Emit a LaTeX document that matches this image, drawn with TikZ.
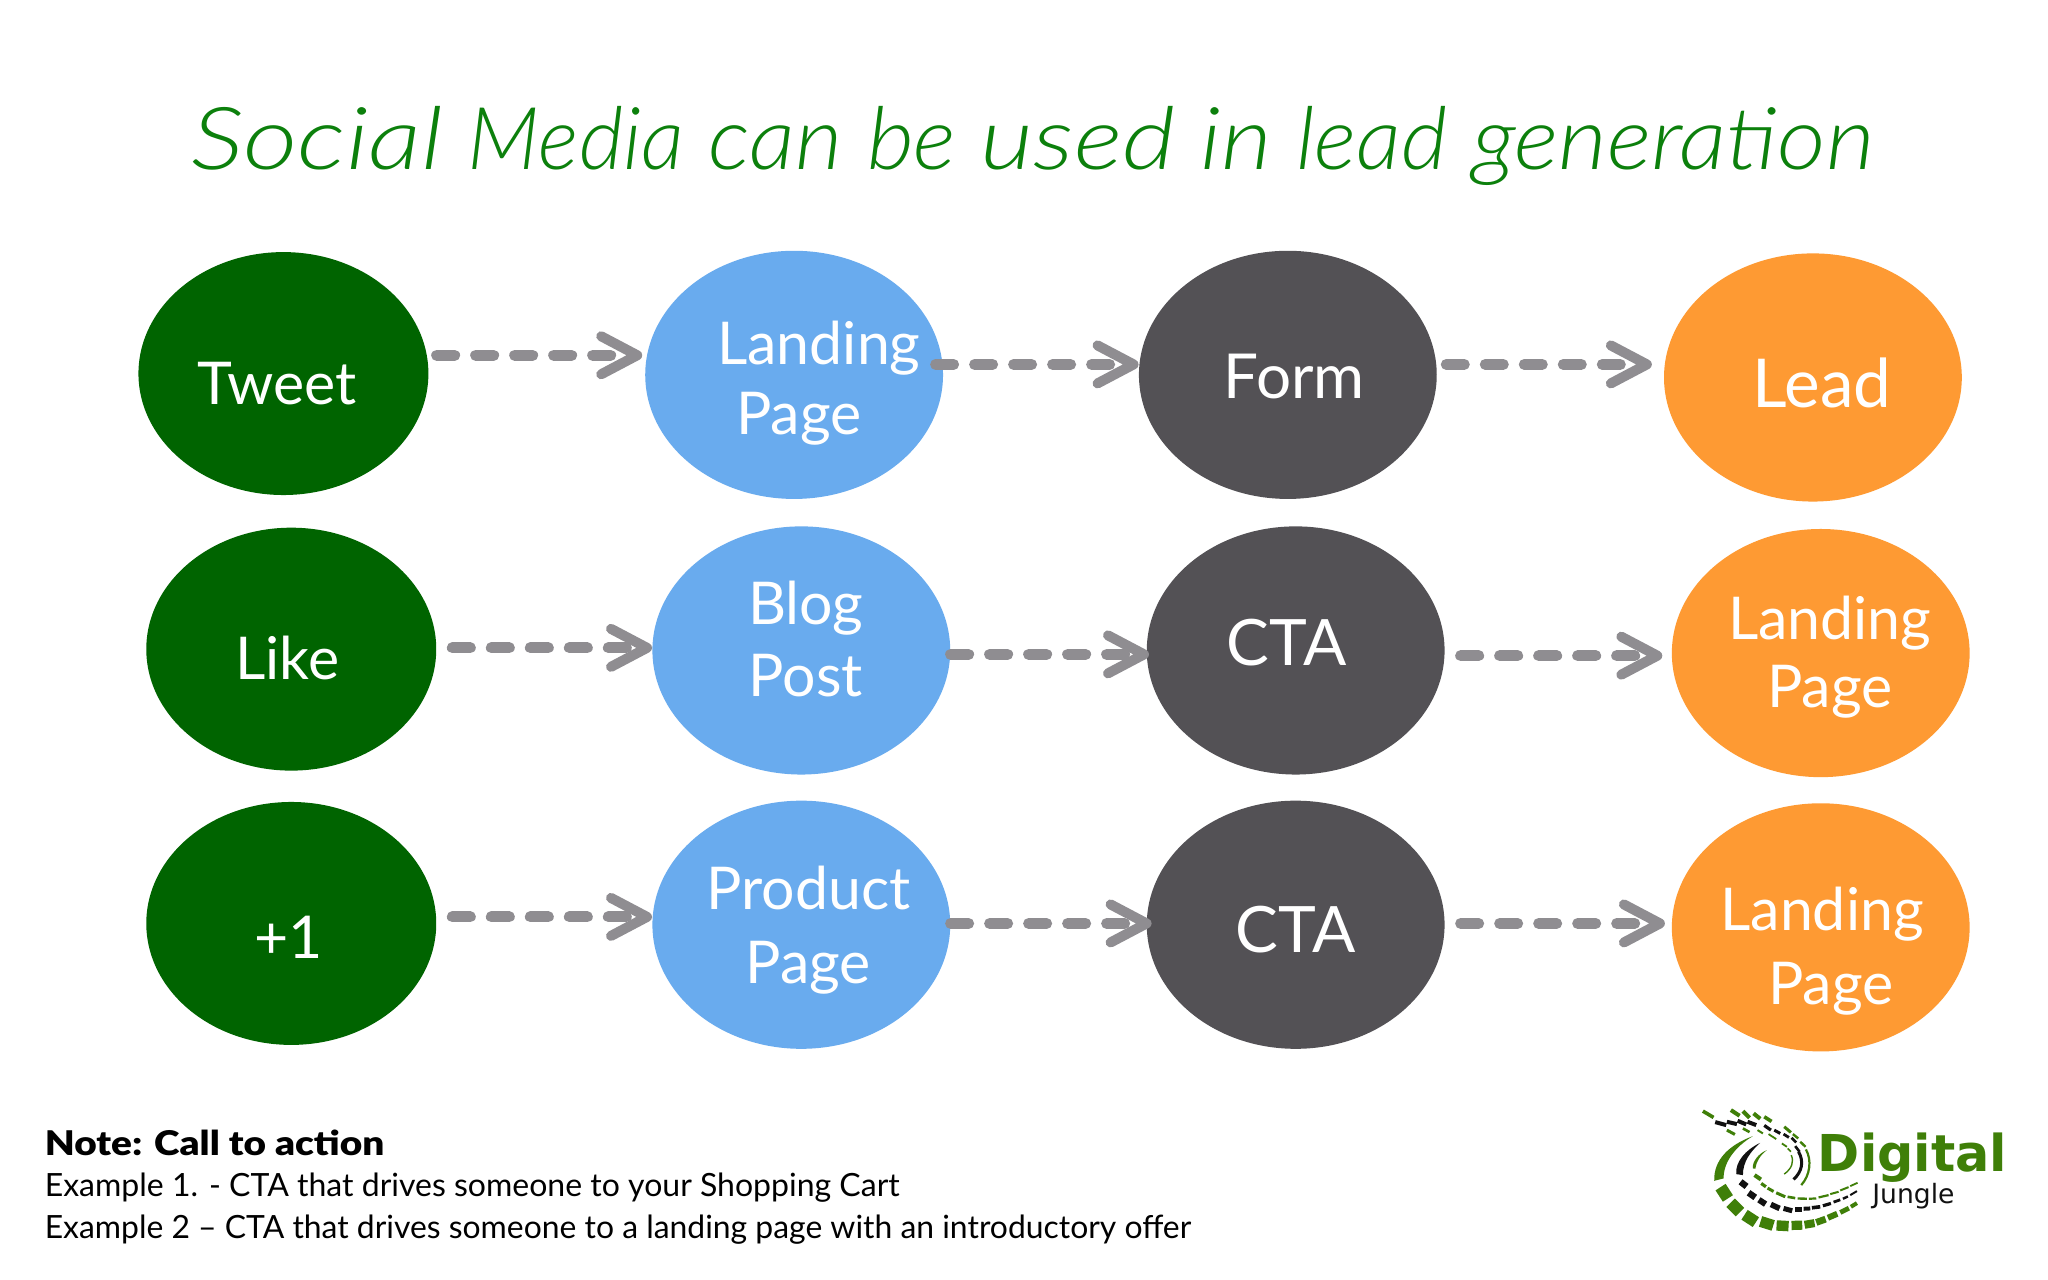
\documentclass[tikz,border=0pt]{standalone}
\usepackage{fontspec}
\setmainfont{Lato}
\newfontfamily\labelfont{Lato}
\newfontfamily\titlefont{Lato Light Italic}
\newfontfamily\notebold{Lato Black}
\newfontfamily\logofont{DejaVu Sans}
\usetikzlibrary{arrows.meta,shapes.geometric}
\definecolor{leafgreen}{HTML}{006400}
\definecolor{skyblue}{HTML}{69ABEE}
\definecolor{slategray}{HTML}{535155}
\definecolor{amber}{HTML}{FE9A33}
\definecolor{arrowgray}{HTML}{8F8D91}
\definecolor{titlegreen}{HTML}{0C800C}
\definecolor{logogreen}{HTML}{3F7F08}
\definecolor{logoblack}{HTML}{111111}
\newcommand\tw[2]{\scalebox{#1}[1]{#2}}
\tikzset{
  oval/.style={ellipse,inner sep=0pt,minimum width=228*0.653pt,minimum height=190*0.653pt},
  gnode/.style={oval,fill=leafgreen,minimum width=222*0.653pt,minimum height=186*0.653pt},
  bnode/.style={oval,fill=skyblue},
  dnode/.style={oval,fill=slategray},
  onode/.style={oval,fill=amber},
  lbl/.style={text=white,font=\labelfont\fontsize{29.5}{35}\selectfont,inner sep=0pt,align=center},
  flow/.style={draw=arrowgray,line width=5.5pt,line cap=round,dash pattern=on 9pt off 10.5pt,
    -{Straight Barb[round,length=18pt,width=19pt,line width=5pt]}},
  notetext/.style={anchor=base west,inner sep=0pt,font=\fontsize{16}{19}\selectfont},
  lg/.style={logogreen,line cap=butt},
  lk/.style={logoblack,line cap=butt},
}
\begin{document}
\begin{tikzpicture}[x=0.653pt,y=-0.653pt]
\useasboundingbox (0,0) rectangle (1568,980);
\fill[white] (0,0) rectangle (1568,980);
\node[anchor=base west,inner sep=0pt,text=titlegreen] (title) at (146,130)
  {\scalebox{1}[0.9]{\resizebox{841.7pt}{!}{\titlefont\fontsize{40}{48}\selectfont \tw{1.1}{Social} \tw{.89}{Media} \tw{.95}{can} \tw{.94}{be} \tw{1.07}{used} \tw{1.02}{in} \tw{.93}{lead} \tw{.98}{generation}}}};

\node[gnode] (a1) at (217,286) {};
\node[gnode] (a2) at (223,497) {};
\node[gnode] (a3) at (223,707) {};
\node[bnode] (b1) at (608,287) {};
\node[bnode] (b2) at (613.5,498) {};
\node[bnode] (b3) at (613.5,708) {};
\node[dnode] (c1) at (986,287) {};
\node[dnode] (c2) at (992,498) {};
\node[dnode] (c3) at (992,708) {};
\node[onode] (d1) at (1388,289) {};
\node[onode] (d2) at (1394,500) {};
\node[onode] (d3) at (1394,710) {};

\node[lbl] (ta1) at (212,294) {Tweet};
\node[lbl] (ta2) at (220,504) {Like};
\node[lbl] (ta3) at (221,718) {+1};
\node[lbl,align=left] (tb1) at (627,293) {Landing\\[0pt]\hspace*{9.5pt}Page};
\node[lbl] (tb2) at (617,489) {Blog\\[1pt]Post};
\node[lbl] (tb3) at (619,712.5) {Product\\[2pt]Page};
\node[lbl,font=\labelfont\fontsize{31}{35}\selectfont] (tc1) at (991,288) {Form};
\node[lbl,font=\labelfont\fontsize{32}{35}\selectfont] (tc2) at (985,492) {CTA};
\node[lbl,font=\labelfont\fontsize{32}{35}\selectfont] (tc3) at (992,712) {CTA};
\node[lbl,font=\labelfont\fontsize{33.7}{35}\selectfont] (td1) at (1395,293) {Lead};
\node[lbl] (td2) at (1401,503) {Landing\\[-1pt]Page};
\node[lbl,align=left] (td3) at (1395,728) {Landing\\[2pt]\hspace*{24pt}Page};

\draw[flow] ([shift={(6,-14)}]a1.east) -- ([shift={(-2,-14)}]b1.west |- a1.east);
\draw[flow] ([shift={(-6,-8)}]b1.east) -- ([shift={(0,-8)}]c1.west);
\draw[flow] ([shift={(7,-8)}]c1.east) -- ([shift={(-9,-8)}]d1.west |- c1.east);
\draw[flow] ([shift={(12,-1)}]a2.east) -- ([shift={(0,-1)}]b2.west |- a2.east);
\draw[flow] ([shift={(0,3)}]b2.east) -- ([shift={(2,3)}]c2.west);
\draw[flow] ([shift={(12,4)}]c2.east) -- ([shift={(-7,4)}]d2.west |- c2.east);
\draw[flow] ([shift={(12,-5)}]a3.east) -- ([shift={(0,-5)}]b3.west |- a3.east);
\draw[flow] ([shift={(0,-1)}]b3.east) -- ([shift={(4,-1)}]c3.west);
\draw[flow] ([shift={(12,-1)}]c3.east) -- ([shift={(-5,-3)}]d3.west);

\node[notetext] (n1) at (34,885) {\scalebox{1.14}[1]{\notebold\fontsize{17}{19}\selectfont Note: Call to action}};
\node[notetext] (n2) at (34,916) {Example 1. - CTA that drives someone to your Shopping Cart};
\node[notetext] (n3) at (34,948) {\scalebox{0.996}[1]{Example 2 – CTA that drives someone to a landing page with an introductory offer}};

\begin{scope}[shift={(1271.1,834.6)},x=0.16667pt,y=-0.16667pt]
  % crescents
  \fill[logogreen] (278,138) .. controls (205,165) and (160,210) .. (162,272) -- (190,265) .. controls (190,215) and (225,170) .. (278,138) -- cycle;
  \fill[logoblack] (300,158) .. controls (255,180) and (225,215) .. (228,252) -- (248,255) .. controls (248,215) and (270,185) .. (300,158) -- cycle;
  \fill[logogreen] (320,180) .. controls (295,190) and (275,215) .. (278,235) -- (285,236) .. controls (288,215) and (300,195) .. (320,180) -- cycle;
  \draw[logogreen,line width=1.1pt] (437,178) .. controls (455,210) and (450,255) .. (423,285);
  \draw[logoblack,line width=1.5pt] (415,185) .. controls (432,215) and (425,245) .. (400,268);
  \draw[logogreen,line width=0.7pt] (393,195) .. controls (402,215) and (395,235) .. (372,252);
  % outer band
  \foreach \ax/\ay/\bx/\by/\w in {181/291/203/325/6, 211/338/239/366/6, 253/374/287/396/5.8, 301/394/339/406/5.5, 349/406/385/408/5.2, 394/406/426/405/4.6, 433/404/463/399/4, 468/397/496/387/3.4, 503/383/531/371/3, 540/367/566/354/2.4, 572/350/590/339/2}
    \draw[lg,line width=\w pt] (\ax,\ay) -- (\bx,\by);
  % middle band
  \foreach \ax/\ay/\bx/\by/\w in {241/275/259/289/3.2, 265/308/285/322/3.2, 296/329/316/342/3, 332/343/358/355/2.8, 370/355/396/362/2.5, 405/358/425/358/2.2, 430/356/450/355/2, 455/353/480/350/1.8, 488/347/512/340/1.6, 520/336/540/329/1.4, 548/326/563/319/1.2, 570/315/590/303/1}
    \draw[lk,line width=\w pt] (\ax,\ay) -- (\bx,\by);
  % inner band
  \foreach \ax/\ay/\bx/\by/\w in {283/255/302/268/2, 303/280/317/290/1.6, 322/294/340/304/1.5, 348/308/375/320/1.5, 382/320/405/324/1.3, 412/325/440/326/1.2, 446/326/468/325/1.1, 475/322/505/315/1.1, 510/312/535/305/1, 540/301/565/291/1, 570/288/592/278/.9}
    \draw[lg,line width=\w pt] (\ax,\ay) -- (\bx,\by);
  % top rows
  \foreach \ax/\ay/\bx/\by/\w in {128/63/160/82/1.8, 212/60/238/77/2, 248/63/268/83/2, 280/70/300/86/2, 312/80/334/94/1.8, 372/110/392/127/1.5, 398/132/414/145/1.2, 420/155/436/170/1.2}
    \draw[lg,line width=\w pt] (\ax,\ay) -- (\bx,\by);
  \foreach \ax/\ay/\bx/\by/\w in {165/96/198/105/2, 200/95/230/102/2, 232/92/258/103/2, 262/95/288/105/2, 312/106/332/120/1.6, 342/120/360/130/1.5, 370/132/386/142/1.4, 394/143/408/157/1.3, 405/168/418/185/1.3}
    \draw[lk,line width=\w pt] (\ax,\ay) -- (\bx,\by);
  \foreach \ax/\ay/\bx/\by/\w in {200/120/224/133/1.5, 248/115/268/126/1.3, 292/120/308/130/1, 325/132/348/147/.9, 365/160/380/170/.9, 382/175/392/185/.8}
    \draw[lg,line width=\w pt] (\ax,\ay) -- (\bx,\by);
  \node[anchor=base west,inner sep=0pt,text=logogreen,font=\logofont\bfseries\fontsize{25.4}{30}\selectfont] (digital) at (472,243) {Digital};
  \node[anchor=base west,inner sep=0pt,text=logoblack,font=\logofont\fontsize{13.3}{17}\selectfont] (jungle) at (635,340) {Jungle};
\end{scope}
\end{tikzpicture}
\end{document}
